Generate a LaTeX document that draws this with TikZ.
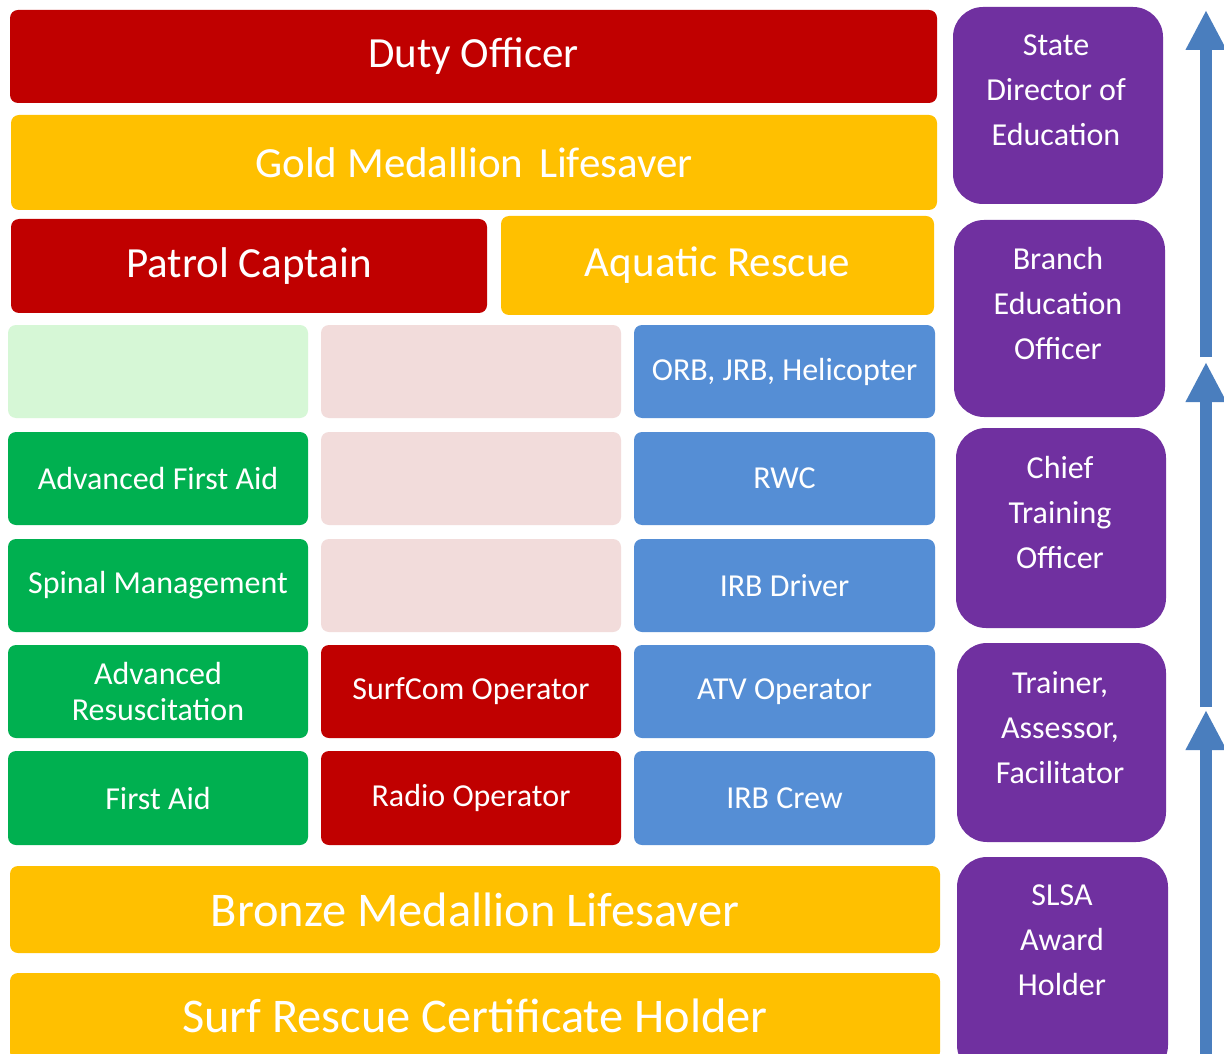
\documentclass[tikz,border=0pt]{standalone}
\usepackage{fontspec}
\setmainfont{Carlito}
\usetikzlibrary{fit,arrows.meta}
\definecolor{cRed}{HTML}{C00000}
\definecolor{cGold}{HTML}{FFC000}
\definecolor{cGreen}{HTML}{00B050}
\definecolor{cLGreen}{HTML}{D6F7D6}
\definecolor{cPink}{HTML}{F2DCDB}
\definecolor{cBlue}{HTML}{558ED5}
\definecolor{cPurple}{HTML}{7030A0}
\definecolor{cArrow}{HTML}{4A7EBE}
\tikzset{
  box/.style={inner sep=0pt, rounded corners=4pt},
  txt/.style={text=white, align=center, inner sep=0pt},
  bigtxt/.style={txt, font=\fontsize{21.5}{25}\selectfont},
  hugetxt/.style={txt, font=\fontsize{24.2}{28}\selectfont},
  smalltxt/.style={txt, font=\fontsize{16}{17.5}\selectfont},
  pbox/.style={inner sep=0pt, rounded corners=15pt, fill=cPurple},
  ptxt/.style={txt, font=\fontsize{16}{22.5}\selectfont},
  uparrow/.style={line width=5.8pt, draw=cArrow, -{Triangle[width=19pt,length=20pt]}}
}
\begin{document}
\begin{tikzpicture}[x=0.5pt,y=-0.5pt]
\useasboundingbox[fill=white] (0,0) rectangle (1224,1053);
% top rows
\node[box,fill=cRed,fit={(10,10)(937,103)}] (duty) {};
\node[bigtxt] at (duty.center) {Duty Officer};
\node[box,fill=cGold,fit={(11,115)(937,210)}] (gold) {};
\node[bigtxt] at (gold.center) {Gold Medallion\hspace{3pt} Lifesaver};
\node[box,fill=cRed,fit={(11,219)(487,313)}] (patrol) {};
\node[bigtxt] at (patrol.center) {Patrol Captain};
\node[box,fill=cGold,fit={(501,216)(934,315)}] (aquatic) {};
\node[bigtxt] at (aquatic.center) {Aquatic Rescue};
% grid rows
\node[box,fill=cLGreen,fit={(8,325)(308,418)}] (g1) {};
\node[box,fill=cPink,fit={(321,325)(621,418)}] (p1) {};
\node[box,fill=cBlue,fit={(634,325)(935,418)}] (b1) {};
\node[smalltxt] at (b1.center) {ORB, JRB, Helicopter};
\node[box,fill=cGreen,fit={(8,432)(308,525)}] (g2) {};
\node[smalltxt] at (g2.center) {Advanced First Aid};
\node[box,fill=cPink,fit={(321,432)(621,525)}] (p2) {};
\node[box,fill=cBlue,fit={(634,432)(935,525)}] (b2) {};
\node[smalltxt] at (b2.center) {RWC};
\node[box,fill=cGreen,fit={(8,539)(308,632)}] (g3) {};
\node[smalltxt] at (g3.center) {Spinal Management};
\node[box,fill=cPink,fit={(321,539)(621,632)}] (p3) {};
\node[box,fill=cBlue,fit={(634,539)(935,632)}] (b3) {};
\node[smalltxt] at (b3.center) {IRB Driver};
\node[box,fill=cGreen,fit={(8,645)(308,738)}] (g4) {};
\node[smalltxt] at (g4.center) {Advanced\\Resuscitation};
\node[box,fill=cRed,fit={(321,645)(621,738)}] (r4) {};
\node[smalltxt] at (r4.center) {SurfCom Operator};
\node[box,fill=cBlue,fit={(634,645)(935,738)}] (b4) {};
\node[smalltxt] at (b4.center) {ATV Operator};
\node[box,fill=cGreen,fit={(8,751)(308,845)}] (g5) {};
\node[smalltxt] at (g5.center) {First Aid};
\node[box,fill=cRed,fit={(321,751)(621,845)}] (r5) {};
\node[smalltxt] at (r5.center) {Radio Operator};
\node[box,fill=cBlue,fit={(634,751)(935,845)}] (b5) {};
\node[smalltxt] at (b5.center) {IRB Crew};
% bottom rows
\node[box,fill=cGold,fit={(10,866)(940,953)}] (bronze) {};
\node[hugetxt] at (bronze.center) {Bronze Medallion Lifesaver};
\node[box,fill=cGold,fit={(10,973)(940,1060)}] (surf) {};
\node[hugetxt] at (475,1016) {Surf Rescue Certificate Holder};
% purple column
\node[pbox,fit={(953,7)(1163,204)}] (pp1) {};
\node[ptxt] (pt1) at (1056,90) {State\\Director of\\Education};
\node[pbox,fit={(954,220)(1165,417)}] (pp2) {};
\node[ptxt] (pt2) at (1058,303) {Branch\\Education\\Officer};
\node[pbox,fit={(956,428)(1166,628)}] (pp3) {};
\node[ptxt] (pt3) at (1060,512) {Chief\\Training\\Officer};
\node[pbox,fit={(957,643)(1166,842)}] (pp4) {};
\node[ptxt] (pt4) at (1060,728) {Trainer,\\Assessor,\\Facilitator};
\node[pbox,fit={(957,857)(1168,1075)}] (pp5) {};
\node[ptxt] (pt5) at (1062,940) {SLSA\\Award\\Holder};
% arrows
\coordinate (a1s) at (1206,357);
\coordinate (a1e) at (1206,10);
\coordinate (a2s) at (1206,707);
\coordinate (a2e) at (1206,362);
\coordinate (a3s) at (1206,1060);
\coordinate (a3e) at (1206,710);
\draw[uparrow] (a1s) -- (a1e);
\draw[uparrow] (a2s) -- (a2e);
\draw[uparrow] (a3s) -- (a3e);
\end{tikzpicture}
\end{document}
